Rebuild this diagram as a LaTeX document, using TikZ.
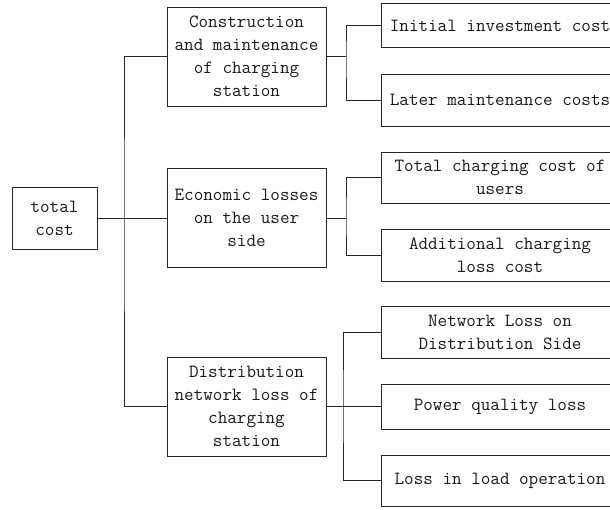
\documentclass[tikz,border=0pt]{standalone}
\begin{document}
\begin{tikzpicture}[x=1pt,y=-1pt,
  every node/.style={font=\ttfamily\fontsize{18.6}{23}\selectfont,align=center,inner sep=0pt,text=black!90},
  rootbox/.style={draw=black!85,line width=1pt,minimum width=85pt,minimum height=62pt},
  costbox/.style={draw=black!85,line width=1pt,minimum width=159pt,minimum height=99pt},
  itembox/.style={draw=black!85,line width=1pt,minimum width=238pt,minimum height=52pt},
  link/.style={draw=black!85,line width=1pt}]

\clip (0,0) rectangle (610,509);

% root
\node[rootbox] (total) at (54.5,218) {total\\cost};

% second level
\node[costbox] (build) at (246.5,56.5) {Construction\\and maintenance\\of charging\\station};
\node[costbox] (user) at (246.5,218) {Economic losses\\on the user\\side};
\node[costbox] (grid) at (246.5,406.5) {Distribution\\network loss of\\charging\\station};

% third level
\node[itembox,minimum height=44pt] (invest) at (500,25.5) {Initial investment cost};
\node[itembox] (maint) at (500,100) {Later maintenance costs};
\node[itembox,minimum height=51pt] (charge) at (500,177.5) {Total charging cost of\\users};
\node[itembox] (extra) at (500,255) {Additional charging\\loss cost};
\node[itembox] (netloss) at (500,332) {Network Loss on\\Distribution Side};
\node[itembox,minimum height=45pt] (quality) at (500,406.5) {Power quality loss};
\node[itembox,minimum height=51pt] (load) at (500,480.5) {Loss in load operation};

% junctions
\coordinate (j0) at (124,218);
\coordinate (j1) at (346,56.5);
\coordinate (j2) at (346,218);
\coordinate (j3) at (343,406.5);

\draw[link] (total.east) -- (user.west);
\draw[link] (build.west) -| (j0) |- (grid.west);

\draw[link] (build.east) -- (j1);
\draw[link] (invest.west) -| (j1) |- (maint.west);

\draw[link] (user.east) -- (j2);
\draw[link] (charge.west) -| (j2) |- (extra.west);

\draw[link] (grid.east) -- (quality.west);
\draw[link] (netloss.west) -| (j3) |- (load.west);

\end{tikzpicture}
\end{document}
